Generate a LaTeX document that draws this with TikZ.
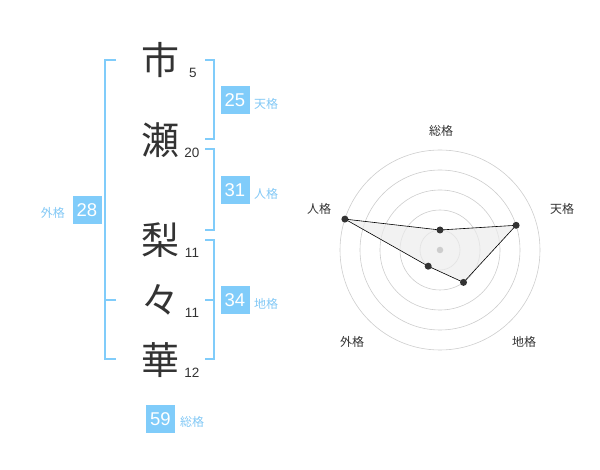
\documentclass[tikz,border=0pt]{standalone}
\usepackage{fontspec}
\setmainfont{Liberation Sans}
\newfontfamily\jpfont{Noto Sans CJK JP}
\definecolor{kakublue}{RGB}{128,204,250}
\definecolor{kakutext}{RGB}{130,200,245}
\definecolor{inkgray}{RGB}{51,51,51}
\definecolor{ringgray}{RGB}{205,205,205}
\definecolor{areagray}{RGB}{236,236,236}
\begin{document}
\begin{tikzpicture}[x=1pt, y=-1pt,
        kanji/.style={font=\jpfont\fontsize{38}{38}\selectfont, text=inkgray, inner sep=0pt},
        strokes/.style={font=\fontsize{13.5}{13.5}\selectfont, text=inkgray, inner sep=0pt},
        numbox/.style={fill=kakublue, text=white, minimum width=29pt, minimum height=28pt, inner sep=0pt, font=\fontsize{18.5}{18.5}\selectfont},
        kaku/.style={font=\jpfont\fontsize{12}{12}\selectfont, text=kakutext, inner sep=0pt},
        axislabel/.style={font=\jpfont\fontsize{12}{12}\selectfont, text=inkgray, inner sep=0pt},
        bracket/.style={draw=kakublue, line width=1.6pt},
        ring/.style={draw=ringgray, line width=0.6pt},
        dot/.style={circle, fill=inkgray, inner sep=0pt, minimum size=7pt}]
        \useasboundingbox (0,0) rectangle (600,470);

        % Name
        \node[kanji] (Ichi) at (160,60) {市};
        \node[kanji] (Se) at (160,140) {瀬};
        \node[kanji] (Ri) at (160,240) {梨};
        \node[kanji] (Rep) at (160,300) {々};
        \node[kanji] (Ka) at (160,360) {華};
        \node[strokes] (IchiN) at (193,73) {5};
        \node[strokes] (SeN) at (192,153) {20};
        \node[strokes] (RiN) at (192,253) {11};
        \node[strokes] (RepN) at (192,313) {11};
        \node[strokes] (KaN) at (192,373) {12};

        % Brackets
        \coordinate (GaiTop) at (116,60);
        \coordinate (GaiMid) at (116,300);
        \coordinate (GaiBot) at (116,359);
        \draw[bracket] (GaiTop) -- (105,60) -- (105,359) -- (GaiBot);
        \draw[bracket] (GaiMid) -- (105,300);
        \coordinate (TenTop) at (205,60);
        \coordinate (TenBot) at (205,139);
        \draw[bracket] (TenTop) -- (214,60) -- (214,139) -- (TenBot);
        \coordinate (JinTop) at (205,149);
        \coordinate (JinBot) at (205,230);
        \draw[bracket] (JinTop) -- (214,149) -- (214,230) -- (JinBot);
        \coordinate (ChiTop) at (205,240);
        \coordinate (ChiMid) at (205,300);
        \coordinate (ChiBot) at (205,359);
        \draw[bracket] (ChiTop) -- (214,240) -- (214,359) -- (ChiBot);
        \draw[bracket] (ChiMid) -- (214,300);

        % Boxes
        \node[numbox] (TenBox) at (235,100) {25};
        \node[kaku, anchor=west] (TenLabel) at (254,104) {天格};
        \node[numbox] (JinBox) at (235,190) {31};
        \node[kaku, anchor=west] (JinLabel) at (254,194) {人格};
        \node[numbox] (ChiBox) at (235,300) {34};
        \node[kaku, anchor=west] (ChiLabel) at (254,304) {地格};
        \node[numbox] (GaiBox) at (87,210) {28};
        \node[kaku, anchor=east] (GaiLabel) at (65,213) {外格};
        \node[numbox] (SouBox) at (160.5,419) {59};
        \node[kaku, anchor=west] (SouLabel) at (180,422) {総格};

        % Chart
        \coordinate (Center) at (440,250);
        \foreach \r in {20,40,60,80,100}
            \draw[ring] (Center) circle[radius=\r];
        \coordinate (SouPt) at (440,230);
        \coordinate (TenPt) at (516.1,225.3);
        \coordinate (ChiPt) at (463.5,282.4);
        \coordinate (GaiPt) at (428.2,266.2);
        \coordinate (JinPt) at (344.9,219.1);
        \fill[areagray, fill opacity=0.7] (SouPt) -- (TenPt) -- (ChiPt) -- (GaiPt) -- (JinPt) -- cycle;
        \draw[black, line width=0.6pt] (SouPt) -- (TenPt) -- (ChiPt) -- (GaiPt) -- (JinPt) -- cycle;
        \node[circle, fill=ringgray, inner sep=0pt, minimum size=6.5pt] (CenterDot) at (Center) {};
        \foreach \p in {SouPt,TenPt,ChiPt,GaiPt,JinPt}
            \node[dot] at (\p) {};
        \node[axislabel] (SouAxis) at (441,131) {総格};
        \node[axislabel] (TenAxis) at (562,209) {天格};
        \node[axislabel] (ChiAxis) at (524,342) {地格};
        \node[axislabel] (GaiAxis) at (352,342) {外格};
        \node[axislabel] (JinAxis) at (319,209) {人格};
    \end{tikzpicture}
\end{document}
